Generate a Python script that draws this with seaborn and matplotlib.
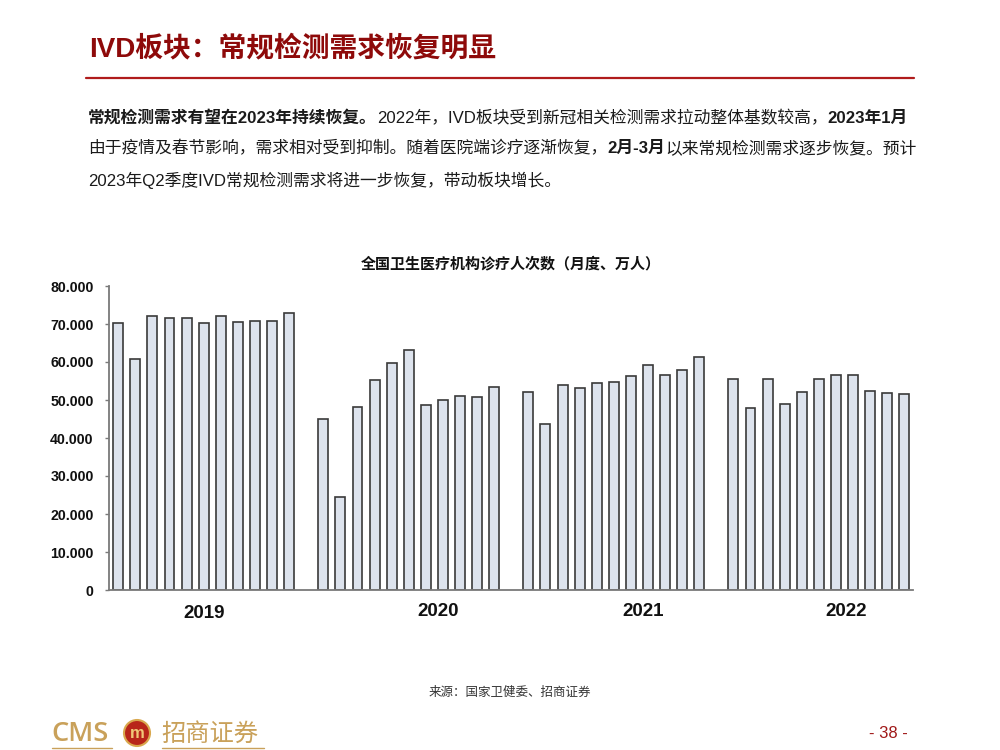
import numpy as np
import pandas as pd
import matplotlib
matplotlib.use("Agg")
import matplotlib.pyplot as plt
from matplotlib.ticker import FuncFormatter
from matplotlib.patches import Circle
import seaborn as sns

# ---------------- data ----------------
years = ["2019", "2020", "2021", "2022"]
v2019 = [70.2, 60.7, 72.1, 71.7, 71.7, 70.3, 72.2, 70.6, 70.9, 70.8, 72.8]
v2020 = [45.0, 24.4, 48.2, 55.2, 59.7, 63.2, 48.8, 50.1, 51.1, 50.9, 53.5]
v2021 = [52.0, 43.8, 53.9, 53.2, 54.5, 54.7, 56.3, 59.3, 56.6, 58.0, 61.4]
v2022 = [55.6, 47.8, 55.6, 48.9, 52.2, 55.5, 56.6, 56.7, 52.4, 51.8, 51.5]
series = [v2019, v2020, v2021, v2022]
yticks = [0, 10, 20, 30, 40, 50, 60, 70, 80]

title_text = "IVD板块：常规检测需求恢复明显"
chart_title = "全国卫生医疗机构诊疗人次数（月度、万人）"
source_text = "来源：国家卫健委、招商证券"
para_lines = [
    [("常规检测需求有望在2023年持续恢复。", True),
     ("2022年，IVD板块受到新冠相关检测需求拉动整体基数较高，", False),
     ("2023年1月", True)],
    [("由于疫情及春节影响，需求相对受到抑制。随着医院端诊疗逐渐恢复，", False),
     ("2月-3月", True),
     ("以来常规检测需求逐步恢复。预计", False)],
    [("2023年Q2季度IVD常规检测需求将进一步恢复，带动板块增长。", False)],
]

# ---------------- build frame ----------------
slots_per_year = 12
rows = []
for yi, (yr, vals) in enumerate(zip(years, series)):
    for mi, v in enumerate(vals):
        rows.append({"pos": yi * slots_per_year + mi, "value": v, "year": yr})
df = pd.DataFrame(rows)

# ---------------- style ----------------
sns.set_theme(style="white")
plt.rcParams["font.family"] = ["Liberation Sans", "Noto Sans CJK SC", "DejaVu Sans"]

W, H = 1000, 750
fig = plt.figure(figsize=(10, 7.5), dpi=100)
fig.patch.set_facecolor("white")

def fx(px):
    return px / W

def fy(py):
    return 1 - py / H

DARK_RED = "#8E0A0A"
LINE_RED = "#B01C1C"
GOLD = "#C9A15A"

# header
fig.text(fx(89), fy(49), title_text, fontsize=20, fontweight="bold",
         color=DARK_RED, va="center", ha="left",
         family=["Liberation Sans", "Noto Sans CJK SC"])
fig.add_artist(plt.Line2D([fx(86), fx(914)], [fy(78), fy(78)], color=LINE_RED, lw=1.6))

# paragraph with mixed bold runs
renderer = fig.canvas.get_renderer()
line_y = [118, 148, 180]
for ly, runs in zip(line_y, para_lines):
    x = 88
    for txt, bold in runs:
        t = fig.text(fx(x), fy(ly), txt, fontsize=12.1,
                     fontweight="bold" if bold else "normal",
                     color="#1a1a1a", va="center", ha="left",
                     family=["Liberation Sans", "Noto Sans CJK SC"])
        bb = t.get_window_extent(renderer=renderer)
        x += bb.width

# chart title
fig.text(fx(511), fy(263), chart_title, fontsize=10.8, fontweight="bold",
         color="#111111", ha="center", va="center",
         family=["Noto Sans CJK SC", "Liberation Sans"])

# ---------------- chart ----------------
ax = fig.add_axes([fx(109), fy(590), fx(912.7) - fx(109), fy(286) - fy(590)])
sns.barplot(data=df, x="pos", y="value", native_scale=True, width=0.58,
            color="#DDE3ED", saturation=1, edgecolor="#3a3a3a", linewidth=1.2,
            errorbar=None, ax=ax)
ax.set_xlim(-0.54, 46.49)
ax.set_ylim(0, 80)
ax.set_yticks(yticks)
ax.yaxis.set_major_formatter(FuncFormatter(lambda v, p: "0" if v == 0 else f"{v:.3f}"))
ax.set_xticks([])
ax.set_xlabel("")
ax.set_ylabel("")
for s in ["top", "right"]:
    ax.spines[s].set_visible(False)
for s in ["left", "bottom"]:
    ax.spines[s].set_color("#7a7a7a")
    ax.spines[s].set_linewidth(1.3)
ax.tick_params(axis="y", left=True, length=3, width=1, color="#7a7a7a", pad=8,
               labelsize=10.2, labelcolor="#111111")
for lab in ax.get_yticklabels():
    lab.set_fontweight("bold")
    lab.set_family("Liberation Sans")
ax.set_facecolor("white")
ax.grid(False)

# year labels under each group
label_offset = [5.0, 6.7, 6.7, 6.6]
label_y = [614, 611, 611, 611]
trans = matplotlib.transforms.blended_transform_factory(ax.transData, fig.transFigure)
for yi, yr in enumerate(years):
    ax.text(yi * slots_per_year + label_offset[yi], fy(label_y[yi]), yr,
            transform=trans, ha="center", va="center", fontsize=13.5,
            fontweight="bold", color="#111111", family="Liberation Sans")

# source
fig.text(fx(510), fy(692), source_text, fontsize=9, color="#333333",
         ha="center", va="center", family=["Noto Sans CJK SC"])

# footer logo
fig.text(fx(51), fy(734), "CMS", fontsize=19.5, color=GOLD, ha="left", va="center",
         family="Open Sans", fontweight="semibold")
fig.add_artist(Circle((1.37, 7.5 - 7.33), radius=0.13, transform=fig.dpi_scale_trans,
                      facecolor="#B8261A", edgecolor="#D9A84E", lw=1.5))
fig.text(fx(137), fy(733), "m", fontsize=12, fontweight="bold", color="#F0C878",
         ha="center", va="center", family="Liberation Sans")
fig.text(fx(161), fy(734), "招商证券", fontsize=17.5, color=GOLD, ha="left", va="center",
         family=["Noto Sans CJK SC"], fontweight="medium")
fig.add_artist(plt.Line2D([fx(52), fx(112)], [fy(748), fy(748)], color=GOLD, lw=1))
fig.add_artist(plt.Line2D([fx(162), fx(264)], [fy(748), fy(748)], color=GOLD, lw=1))

# page number
fig.text(fx(888), fy(734), "- 38 -", fontsize=12, color="#A01818", ha="center",
         va="center", family="Liberation Sans")

fig.savefig("out.png", dpi=100, facecolor="white")
